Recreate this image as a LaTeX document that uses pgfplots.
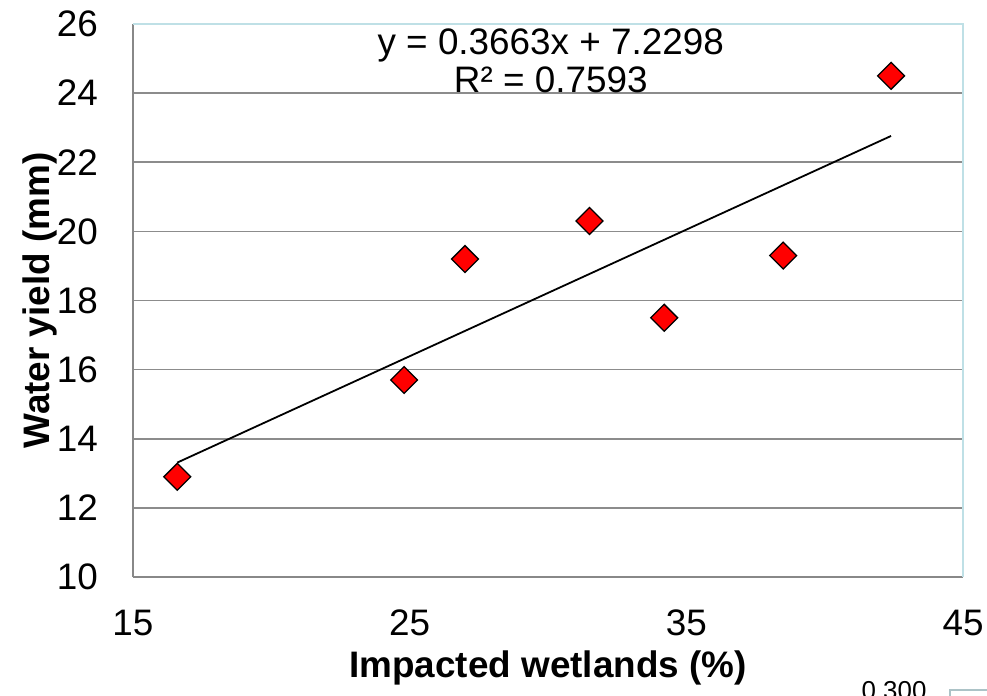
\documentclass[border=0pt]{standalone}
\usepackage{pgfplots}
\pgfplotsset{compat=1.18}
\usepackage{fontspec}
\setmainfont{Liberation Sans}
\definecolor{gridgray}{HTML}{8C8C8C}
\definecolor{framegray}{HTML}{888888}
\definecolor{frameblue}{HTML}{BFE0E6}
\begin{document}
\begin{tikzpicture}[x=1bp,y=1bp]
\begin{axis}[
  at={(133bp,119bp)}, anchor=south west,
  scale only axis, width=830bp, height=553bp,
  xmin=15, xmax=45, ymin=10, ymax=26,
  xtick={15,25,35,45}, ytick={10,12,...,26},
  axis x line*=bottom, axis y line*=left,
  axis line style={framegray, line width=1.5bp, -},
  ymajorgrids, grid style={gridgray, line width=1.6bp},
  major tick length=0pt,
  /pgf/number format/assume math mode=true,
  tick label style={font=\fontsize{37}{40}\selectfont, inner sep=0pt},
  xticklabel style={anchor=base, yshift=-58bp},
  yticklabel style={anchor=east, xshift=-35bp},
  xlabel={\bfseries Impacted wetlands (\%)},
  ylabel={\bfseries Water yield (mm)},
  label style={font=\fontsize{37}{40}\selectfont},
  xlabel style={at={(axis description cs:0.5,0)}, anchor=center, yshift=-91bp},
  ylabel style={at={(axis description cs:0,0.5)}, anchor=center, yshift=93bp},
  clip=false,
]
\addplot[only marks, mark=square*, mark size=9.5bp,
  mark options={rotate=45, fill=red, draw=black, line width=1.3bp}]
  coordinates {(16.6,12.9) (24.8,15.7) (27.0,19.2) (31.5,20.3) (34.2,17.5) (38.5,19.3) (42.4,24.5)};
\addplot[black, line width=1.8bp] coordinates {(16.6,13.3104) (42.4,22.7609)};
\draw[frameblue, line width=1.5bp] (rel axis cs:0,1) -- (rel axis cs:1,1) -- (rel axis cs:1,0);
\node[align=center, inner sep=0pt, font=\fontsize{37}{38}\selectfont, anchor=center] at (axis cs:30.1,24.93) {y = 0.3663x + 7.2298\\R² = 0.7593};
\end{axis}
\node[anchor=base, font=\fontsize{26}{30}\selectfont] at (894bp,-3bp) {0.300};
\draw[frameblue!70!gray, line width=1.2bp] (950bp,-20bp) rectangle (1000bp,6bp);
\pgfresetboundingbox
\path[use as bounding box] (0,0) rectangle (987bp,696bp);
\end{tikzpicture}
\end{document}
